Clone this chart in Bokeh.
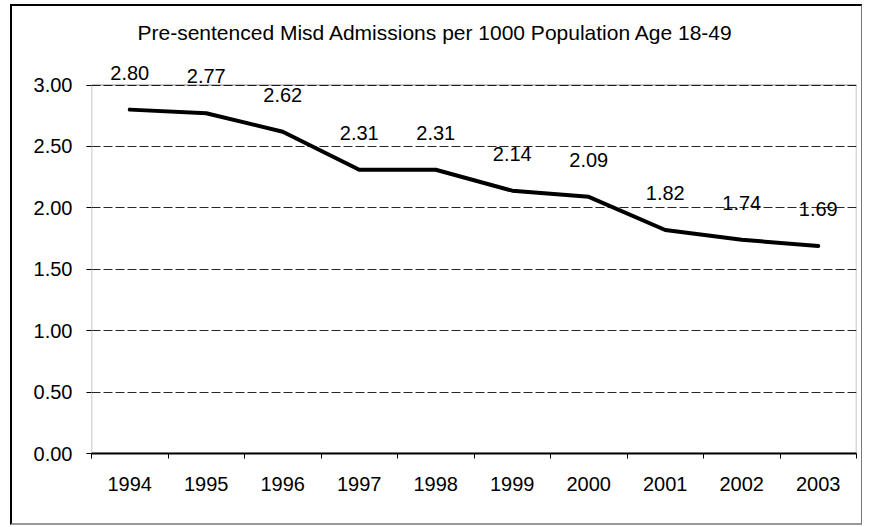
from bokeh.plotting import figure
from bokeh.models import (Range1d, LinearAxis, FixedTicker, ColumnDataSource,
                          NumeralTickFormatter, BoxAnnotation)
from bokeh.core.properties import value
from bokeh.embed import file_html
from bokeh.resources import INLINE

title_text = "Pre-sentenced Misd Admissions per 1000 Population Age 18-49"
years = ["1994", "1995", "1996", "1997", "1998", "1999", "2000", "2001", "2002", "2003"]
rates = [2.80, 2.77, 2.62, 2.31, 2.31, 2.14, 2.09, 1.82, 1.74, 1.69]
y_ticks = [0.0, 0.5, 1.0, 1.5, 2.0, 2.5, 3.0]
y_max = 3.0

FONT = "Liberation Sans"
n = len(years)
xs = [i + 0.5 for i in range(n)]
src = ColumnDataSource(dict(x=xs, y=rates, label=[f"{r:.2f}" for r in rates]))

p = figure(width=852, height=521, output_backend="svg", toolbar_location=None,
           x_range=Range1d(0, n), y_range=Range1d(0, 3.2),
           x_axis_type=None,
           min_border_left=79, min_border_right=8, min_border_top=10, min_border_bottom=74)
p.styles = {"margin-left": "10px", "margin-top": "4px",
            "border-left": "2px solid black", "border-top": "2px solid black",
            "border-right": "1px solid #777777", "border-bottom": "2px solid #999999",
            "box-sizing": "border-box"}

p.title.text = title_text
p.title.align = "left"
p.title.offset = 46
p.title.vertical_align = "top"
p.title.standoff = 29
p.title.text_font = FONT
p.title.text_font_size = "21px"
p.title.text_font_style = "normal"
p.title.text_color = "black"

p.outline_line_color = None

# plot-area border (0..3.00)
p.add_layout(BoxAnnotation(left=0, right=n, bottom=0, top=y_max,
                           fill_alpha=0, line_color="black", line_width=1.5))

# y axis
yax = p.yaxis[0]
yax.ticker = FixedTicker(ticks=y_ticks)
yax.formatter = NumeralTickFormatter(format="0.00")
yax.major_label_text_font = FONT
yax.major_label_text_font_size = "20px"
yax.major_label_text_color = "black"
yax.major_tick_out = 5
yax.major_tick_in = 0
yax.major_tick_line_color = "black"
yax.minor_tick_out = 0
yax.minor_tick_in = 0
yax.major_label_standoff = 14
yax.axis_line_color = None

p.ygrid.ticker = FixedTicker(ticks=y_ticks)
p.ygrid.grid_line_color = "black"
p.ygrid.grid_line_dash = "9 3"
p.ygrid.grid_line_width = 1
p.ygrid.grid_line_alpha = 0.85

# x axis: labels at category centres, tick marks at category boundaries
xax = LinearAxis(ticker=FixedTicker(ticks=xs, minor_ticks=list(range(n + 1))),
                 major_label_overrides={x: y for x, y in zip(xs, years)},
                 major_label_text_font=FONT,
                 major_label_text_font_size="20px",
                 major_label_text_color="black",
                 major_tick_out=0, major_tick_in=0,
                 minor_tick_out=5, minor_tick_in=0,
                 minor_tick_line_color="black",
                 major_label_standoff=18,
                 axis_line_color="black", axis_line_width=2)
p.add_layout(xax, "below")

p.line("x", "y", source=src, line_color="black", line_width=4, line_join="round", line_cap="round")
p.text("x", "y", text="label", source=src, text_font=value(FONT), text_font_size="20px",
       text_align="center", text_baseline="middle", y_offset=-37, text_color="black")

open("out.html", "w").write(file_html(p, INLINE))
